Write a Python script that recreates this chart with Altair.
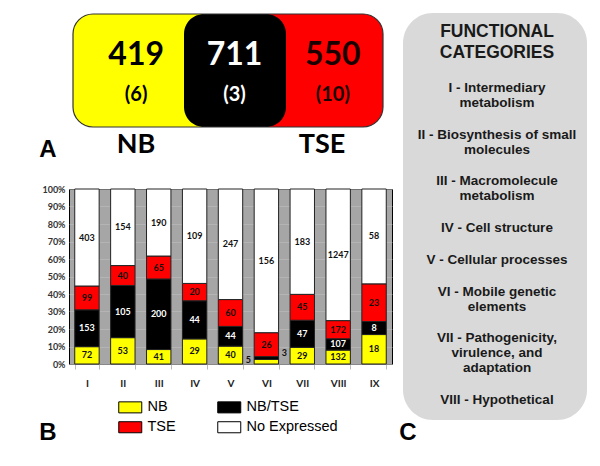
import altair as alt
import pandas as pd

# ---------------- data ----------------
categories = ["I", "II", "III", "IV", "V", "VI", "VII", "VIII", "IX"]
nb_counts = [72, 53, 41, 29, 40, 5, 29, 132, 18]
nbtse_counts = [153, 105, 200, 44, 44, 3, 47, 107, 8]
tse_counts = [99, 40, 65, 20, 60, 26, 45, 172, 23]
none_counts = [403, 154, 190, 109, 247, 156, 183, 1247, 58]
series_names = ["NB", "NB/TSE", "TSE", "No Expressed"]
series_colors = ["#ffff00", "#000000", "#ff0000", "#ffffff"]
legend_order = ["NB", "TSE", "NB/TSE", "No Expressed"]
pct_ticks = [0.0, 0.1, 0.2, 0.3, 0.4, 0.5, 0.6, 0.7, 0.8, 0.9, 1.0]

venn_groups = ["NB", "NB/TSE", "TSE"]
venn_totals = [419, 711, 550]
venn_exclusive = [6, 3, 10]
venn_fills = ["#ffff00", "#000000", "#ff0000"]
venn_text_colors = ["#000000", "#ffffff", "#1a0000"]

panel_title = ["FUNCTIONAL", "CATEGORIES"]
functional_categories = [
    ["I - Intermediary", "metabolism"],
    ["II - Biosynthesis of small", "molecules"],
    ["III - Macromolecule", "metabolism"],
    ["IV - Cell structure"],
    ["V - Cellular processes"],
    ["VI - Mobile genetic", "elements"],
    ["VII - Pathogenicity,", "virulence, and", "adaptation"],
    ["VIII - Hypothetical"],
]

# ---------------- tables ----------------
series_values = [nb_counts, nbtse_counts, tse_counts, none_counts]
rows = []
for ci, cat in enumerate(categories):
    vals = [s[ci] for s in series_values]
    total = sum(vals)
    cum = 0
    for si, name in enumerate(series_names):
        v = vals[si]
        start = cum / total
        cum += v
        end = cum / total
        frac = v / total
        if frac < 0.04 and name == "NB":
            place = "left"
        elif frac < 0.04 and name == "NB/TSE":
            place = "right"
        else:
            place = "inside"
        rows.append(dict(category=cat, series=name, value=v, start=start, end=end,
                         mid=(start + end) / 2, place=place))
bars = pd.DataFrame(rows)

venn = pd.DataFrame(dict(group=venn_groups, total=[str(v) for v in venn_totals],
                         excl=[f"({v})" for v in venn_exclusive],
                         fill=venn_fills, tcolor=venn_text_colors,
                         idx=list(range(len(venn_groups)))))
n = len(venn_groups)
venn["xc"] = venn["idx"] + 0.5
venn["x0"] = [min(i, n / 2) if i != 1 else i for i in venn["idx"]]
venn["x1"] = [max(i + 1, n / 2) if i != 1 else i + 1 for i in venn["idx"]]
venn["y0"] = 0.0
venn["y1"] = 1.0
sides = venn[venn["idx"] != 1]
center = venn[venn["idx"] == 1]
outline = pd.DataFrame(dict(x0=[0.0], x1=[float(n)], y0=[0.0], y1=[1.0]))

gap = 1.113
line_rows = []
L = 0
for b, block in enumerate(functional_categories):
    for line in block:
        line_rows.append(dict(text=line, slot=L + b * gap))
        L += 1
fc_lines = pd.DataFrame(line_rows)
fc_title = pd.DataFrame(dict(text=panel_title, slot=list(range(len(panel_title)))))

# ---------------- bar chart (panel B) ----------------
x_scale = alt.Scale(paddingInner=0.32, paddingOuter=0.16)
x_axis = alt.Axis(title=None, labelAngle=0, labelFont="Lato", labelFontSize=10,
                  labelFontWeight="bold", labelColor="#222", labelPadding=9,
                  tickBand="extent", tickSize=5, tickColor="#bbbbbb",
                  domainColor="#888888", grid=False)
y_scale = alt.Scale(domain=[0, 1], nice=False)
y_axis = alt.Axis(title=None, format=".0%", values=pct_ticks, tickCount=11,
                  labelOverlap=False, labelBound=False, labelFlush=False,
                  labelFont="Lato", labelFontSize=9, labelFontWeight="bold",
                  labelColor="#333333", ticks=False, domain=False, labelPadding=4,
                  gridColor="#bdbdbd", gridWidth=0.6)

legend = alt.Legend(title=None, orient="none", legendX=54, legendY=211, columns=2,
                    values=legend_order,
                    symbolType="M-2,-0.96L2,-0.96L2,0.96L-2,0.96Z", symbolSize=132.25,
                    symbolStrokeColor="#000000", symbolStrokeWidth=1, symbolOpacity=1,
                    labelFont="Liberation Sans", labelFontSize=14.5, labelColor="#000000",
                    labelOffset=10, columnPadding=39, rowPadding=4, padding=0)

bar_marks = alt.Chart(bars).mark_bar(stroke="#222222", strokeWidth=1).encode(
    x=alt.X("category:N", sort=categories, scale=x_scale, axis=x_axis),
    y=alt.Y("start:Q", scale=y_scale, axis=y_axis),
    y2="end:Q",
    color=alt.Color("series:N", scale=alt.Scale(domain=series_names, range=series_colors),
                    legend=legend),
)

txt = dict(font="Lato", fontSize=9, fontWeight="bold", baseline="middle")
x_lab = alt.X("category:N", sort=categories, scale=x_scale, axis=x_axis)
y_lab = alt.Y("mid:Q", scale=y_scale, axis=y_axis)
lab_dark = alt.Chart(bars).transform_filter(
    "datum.place == 'inside' && datum.series != 'NB/TSE'"
).mark_text(color="#111111", **txt).encode(x=x_lab, y=y_lab, text="value:Q")
lab_white = alt.Chart(bars).transform_filter(
    "datum.place == 'inside' && datum.series == 'NB/TSE'"
).mark_text(color="#ffffff", **txt).encode(x=x_lab, y=y_lab, text="value:Q")
lab_left = alt.Chart(bars).transform_filter("datum.place == 'left'").mark_text(
    color="#111111", dx=-18, dy=-2, **txt).encode(x=x_lab, y=y_lab, text="value:Q")
lab_right = alt.Chart(bars).transform_filter("datum.place == 'right'").mark_text(
    color="#111111", dx=18, dy=-5, **txt).encode(x=x_lab, y=y_lab, text="value:Q")

panel_b = alt.layer(bar_marks, lab_dark, lab_white, lab_left, lab_right)

# ---------------- panel A ----------------
ya = alt.Y("y0:Q", scale=alt.Scale(domain=[0, 1], range=[-62, -175]), axis=None)
sides_layer = alt.Chart(sides).mark_rect(cornerRadius=20).encode(
    x=alt.X("x0:Q", scale=alt.Scale(domain=[0, n], range=[4, 314]), axis=None),
    x2="x1:Q", y=ya, y2="y1:Q", fill=alt.Fill("fill:N", scale=None))
center_layer = alt.Chart(center).mark_rect(cornerRadius=20).encode(
    x=alt.X("x0:Q", scale=alt.Scale(domain=[0, n], range=[13, 319]), axis=None),
    x2="x1:Q", y=ya, y2="y1:Q", fill=alt.Fill("fill:N", scale=None))
outline_layer = alt.Chart(outline).mark_rect(
    cornerRadius=20, fill="transparent", stroke="#333333", strokeWidth=1.2).encode(
    x=alt.X("x0:Q", scale=alt.Scale(domain=[0, n], range=[4, 314]), axis=None),
    x2="x1:Q", y=ya, y2="y1:Q")
num_layer = alt.Chart(venn).mark_text(font="Lato", fontSize=32, fontWeight="bold",
                                      baseline="middle").encode(
    x=alt.X("xc:Q", scale=alt.Scale(domain=[0, n], range=[18, 313]), axis=None),
    y=alt.value(-134), text="total:N", color=alt.Color("tcolor:N", scale=None))
excl_layer = alt.Chart(venn).mark_text(font="Lato", fontSize=20, fontWeight="bold",
                                       baseline="middle").encode(
    x=alt.X("xc:Q", scale=alt.Scale(domain=[0, n], range=[18, 313]), axis=None),
    y=alt.value(-94), text="excl:N", color=alt.Color("tcolor:N", scale=None))
group_label_layer = alt.Chart(sides).mark_text(font="Lato", fontSize=27, fontWeight="bold",
                                               baseline="middle", color="#000000").encode(
    x=alt.X("xc:Q", scale=alt.Scale(domain=[0, n], range=[20.5, 299.5]), axis=None),
    y=alt.value(-44), text="group:N")

# ---------------- panel C ----------------
c_bg = alt.Chart(pd.DataFrame({"t": [0]})).mark_rect(cornerRadius=30, fill="#d9d9d9").encode(
    x=alt.value(334), x2=alt.value(518), y=alt.value(-176), y2=alt.value(231))
c_title = alt.Chart(fc_title).mark_text(font="Liberation Sans", fontSize=17.5, fontWeight="bold",
                                        color="#1a1a1a", baseline="middle").encode(
    x=alt.value(428),
    y=alt.Y("slot:Q", scale=alt.Scale(domain=[0, 1], range=[-157, -136]), axis=None),
    text="text:N")
c_lines = alt.Chart(fc_lines).mark_text(font="Liberation Sans", fontSize=13.5, fontWeight="bold",
                                        color="#1a1a1a", baseline="middle").encode(
    x=alt.value(428),
    y=alt.Y("slot:Q", scale=alt.Scale(domain=[0, 13 + 7 * gap], range=[-101, 211]), axis=None),
    text="text:N")

# ---------------- panel letters ----------------
def letter(t, x, y):
    return alt.Chart(pd.DataFrame({"t": [t]})).mark_text(
        font="Liberation Sans", fontSize=24, fontWeight="bold", color="#000000",
        baseline="middle").encode(x=alt.value(x), y=alt.value(y), text="t:N")

chart = alt.layer(
    panel_b, sides_layer, center_layer, outline_layer, num_layer, excl_layer,
    group_label_layer, c_bg, c_title, c_lines,
    letter("A", -21, -39), letter("B", -21, 244), letter("C", 339, 244),
).resolve_scale(x="independent", y="independent", color="independent").properties(
    width=323, height=175,
    autosize=alt.AutoSizeParams(type="none"),
    padding={"left": 61, "top": 181, "right": 200, "bottom": 94},
).configure_view(fill="#a6a6a6", stroke="#000000", strokeWidth=1)

chart.save("out.html", embed_options={"renderer": "svg", "actions": False})
